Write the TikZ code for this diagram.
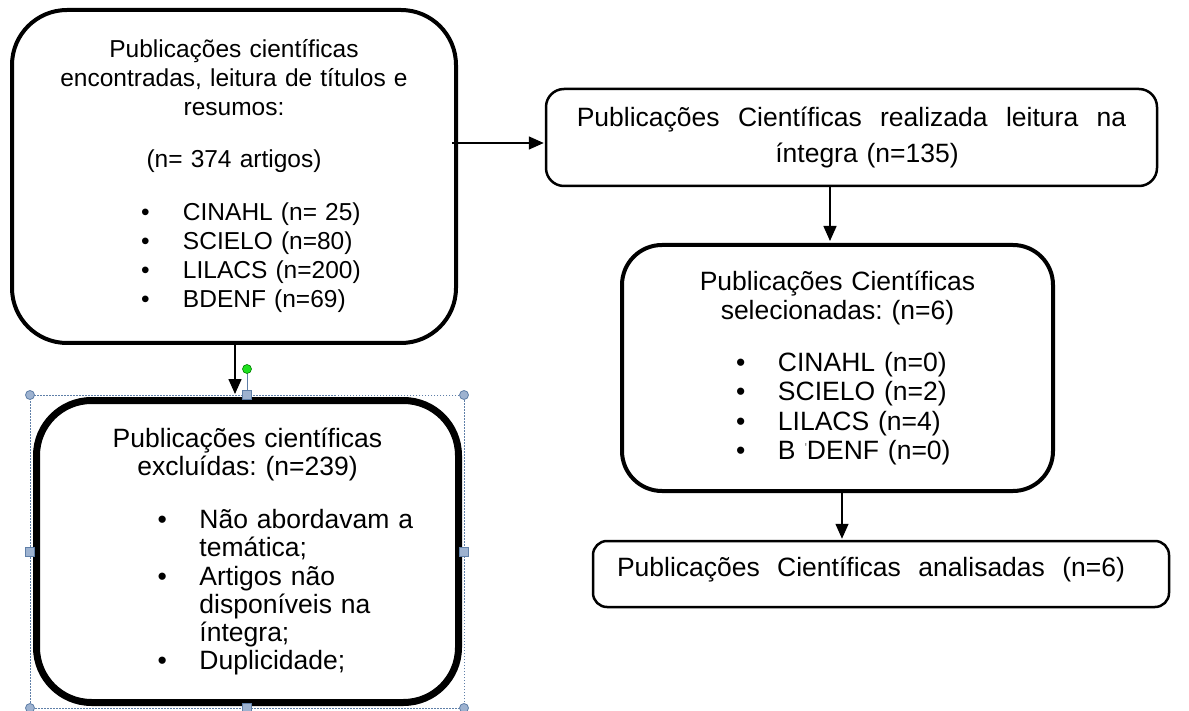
\documentclass[tikz,border=0pt]{standalone}
\usepackage{fontspec}
\setmainfont{Liberation Sans}
\usetikzlibrary{arrows.meta}
\frenchspacing

\definecolor{handleblue}{HTML}{9DB2D0}
\definecolor{handleedge}{HTML}{5F7FA8}
\definecolor{rotgreen}{HTML}{1EE01E}

% bullet lines: #1 = width of the line box, #2 = text
\newlength{\bulsep}\setlength{\bulsep}{42pt}
\newcommand{\bul}[2]{\makebox[#1][l]{\makebox[\bulsep][l]{\textbullet}#2}}
\newcommand{\bulcont}[2]{\makebox[#1][l]{\hspace*{\bulsep}#2}}
% wide word gap of the justified lines
\newcommand{\wgap}{\hspace{18.4pt}}

\tikzset{
  stage/.style={draw, align=center, inner sep=0pt},
  arr/.style={line width=1.5pt, -{Triangle[length=15pt,width=13pt]}},
  handle/.style={draw=handleedge, fill=handleblue, line width=0.8pt},
}

\begin{document}
\begin{tikzpicture}[x=1pt,y=-1pt]
  \path[fill=white, use as bounding box] (0,0) rectangle (1189,711);

  % boxes
  \node[stage, line width=4pt, rounded corners=55pt, minimum width=444pt, minimum height=333pt,
        text width=420pt, font=\fontsize{24.5}{29}\selectfont] (found) at (234,176.5)
    {Publicações científicas\\ encontradas, leitura de títulos e\\ resumos:\\[23pt]
     (n= 374 artigos)\\[24pt]
     \bul{186pt}{CINAHL (n= 25)}\\ \bul{186pt}{SCIELO (n=80)}\\
     \bul{186pt}{LILACS (n=200)}\\ \bul{186pt}{BDENF (n=69)}};

  \node[stage, line width=7pt, rounded corners=55pt, minimum width=422pt, minimum height=302pt,
        text width=400pt, font=\fontsize{26.5}{28.2}\selectfont] (excluded) at (247.5,551.5)
    {Publicações científicas\\ excluídas: (n=239)\\[25pt]
     \bul{180pt}{Não abordavam a}\\ \bulcont{180pt}{temática;}\\
     \bul{180pt}{Artigos não}\\ \bulcont{180pt}{disponíveis na}\\ \bulcont{180pt}{íntegra;}\\
     \bul{180pt}{Duplicidade;}};

  \node[stage, line width=2.5pt, rounded corners=18pt, minimum width=611pt, minimum height=97pt,
        text width=590pt, font=\fontsize{26.5}{36}\selectfont] (read) at (851.5,137.5)
    {Publicações\wgap Científicas\wgap realizada\wgap leitura\wgap na\\
     \hspace*{31pt}íntegra (n=135)};

  \node[stage, line width=4pt, rounded corners=40pt, minimum width=431pt, minimum height=246pt,
        text width=410pt, font=\fontsize{26.5}{29.5}\selectfont] (selected) at (837.5,368)
    {Publicações Científicas\\ selecionadas: (n=6)\\[22pt]
     \bul{203pt}{CINAHL (n=0)}\\ \bul{203pt}{SCIELO (n=2)}\\
     \bul{203pt}{LILACS (n=4)}\\
     \bul{203pt}{B \raisebox{7pt}{\fontsize{13}{13}\selectfont\color{gray}\textquotesingle}DENF (n=0)}};

  \node[stage, line width=2.5pt, rounded corners=14pt, minimum width=576pt, minimum height=66pt,
        text height=4pt, text depth=0pt, font=\fontsize{26.5}{30}\selectfont] (analysed) at (881,574)
    {\makebox[528pt][l]{\makebox[508pt][s]{Publicações Científicas analisadas (n=6)}}};

  % connectors
  \draw[arr, shorten >=3pt] ([xshift=1pt]found.south) -- ([xshift=1pt]found.south |- excluded.north);
  \coordinate (tap) at ([shift={(-6,-33.5)}]found.east);
  \draw[arr, shorten >=1pt] (tap) -- (tap -| read.west);
  \draw[arr, shorten >=2pt] ([xshift=-21.5pt]read.south) -- ([xshift=-21.5pt]read.south |- selected.north);
  \draw[arr, shorten >=1pt] ([xshift=4.5pt]selected.south) -- ([xshift=4.5pt]selected.south |- analysed.north);

  % selection frame round the lower left box
  \draw[handleedge, line width=0.8pt, dash pattern=on 1.5pt off 1.5pt] (30,395) rectangle (464,708);
  \draw[handleedge, line width=1pt] (247,395) -- (247,370);
  \foreach \hx/\hy in {30/395, 464/395, 30/708, 464/708}
    \draw[handle] (\hx,\hy) circle[radius=4.5pt];
  \foreach \hx/\hy in {247/395, 30/552, 464/552, 247/708}
    \draw[handle] (\hx-4.5,\hy-4.5) rectangle (\hx+4.5,\hy+4.5);
  \draw[draw=green!50!black, fill=rotgreen, line width=0.6pt] (247,369) circle[radius=4.5pt];
\end{tikzpicture}
\end{document}
